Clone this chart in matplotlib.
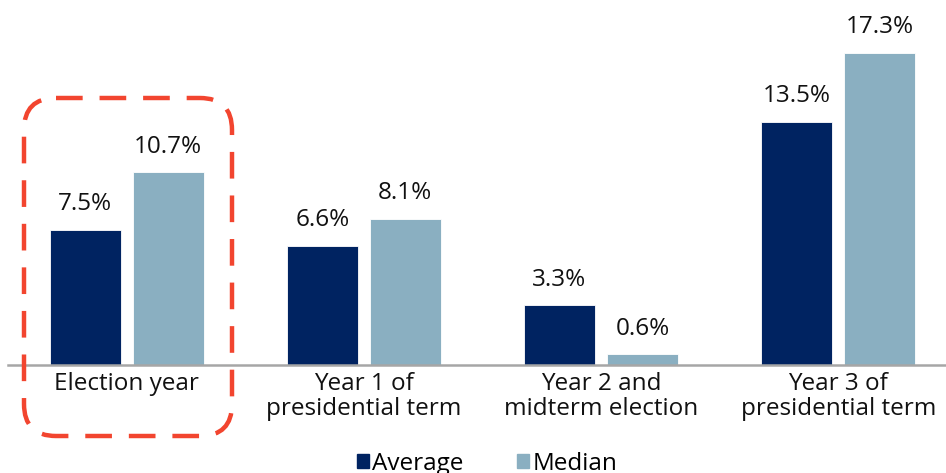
import matplotlib
matplotlib.use("Agg")
import matplotlib.pyplot as plt
import numpy as np
from matplotlib.patches import FancyBboxPatch, Patch

# Chart data
categories = ["Election year", "Year 1 of\npresidential term",
              "Year 2 and\nmidterm election", "Year 3 of\npresidential term"]
average = [7.5, 6.6, 3.3, 13.5]
median = [10.7, 8.1, 0.6, 17.3]

NAVY = "#002361"
LIGHT = "#8AAFC1"
RED = "#F2452F"

plt.rcParams["font.family"] = ["Open Sans", "DejaVu Sans"]

W, H = 946, 473
fig = plt.figure(figsize=(W / 100, H / 100), dpi=100)

# Main axes: baseline at y=365px, left edge at x=8px
ax = fig.add_axes([8 / W, (H - 365) / H, 1 - 8 / W, 365 / H])
x = np.arange(len(categories))
width = 0.30
off = 0.175
bars_avg = ax.bar(x - off, average, width, color=NAVY, edgecolor="white", linewidth=0.6)
bars_med = ax.bar(x + off, median, width, color=LIGHT, edgecolor="white", linewidth=0.6)

for bars, vals in ((bars_avg, average), (bars_med, median)):
    for b, v in zip(bars, vals):
        ax.text(b.get_x() + b.get_width() / 2, v + 0.75, f"{v:.1f}%",
                ha="center", va="bottom", fontsize=17.5, color="#111111")

ax.set_xlim(-0.5, 3.454)
ax.set_ylim(0, 20.24)
ax.set_xticks(x)
ax.set_xticklabels(categories, fontsize=17.5, color="#111111", linespacing=1.08)
ax.tick_params(axis="x", length=0, pad=5)
ax.set_yticks([])
for s in ("top", "right", "left"):
    ax.spines[s].set_visible(False)
ax.spines["bottom"].set_color("#A6A6A6")
ax.spines["bottom"].set_linewidth(1.8)

# Overlay in pixel coordinates for the highlight box
ov = fig.add_axes([0, 0, 1, 1], facecolor="none")
ov.set_xlim(0, W)
ov.set_ylim(H, 0)
ov.axis("off")
box = FancyBboxPatch((24, 98), 208, 338,
                     boxstyle="round,pad=0,rounding_size=32",
                     fill=False, edgecolor=RED, linewidth=3.2,
                     linestyle=(0, (6, 3.8)), mutation_aspect=1)
ov.add_patch(box)

handles = [Patch(color=NAVY, label="Average"), Patch(color=LIGHT, label="Median")]
fig.legend(handles=handles, loc="center", bbox_to_anchor=(0.515, 0.02),
           ncol=2, frameon=False, fontsize=17.5, handlelength=0.5, handleheight=0.5,
           handletextpad=0.12, columnspacing=2.2)

fig.savefig("out.png", dpi=100)
